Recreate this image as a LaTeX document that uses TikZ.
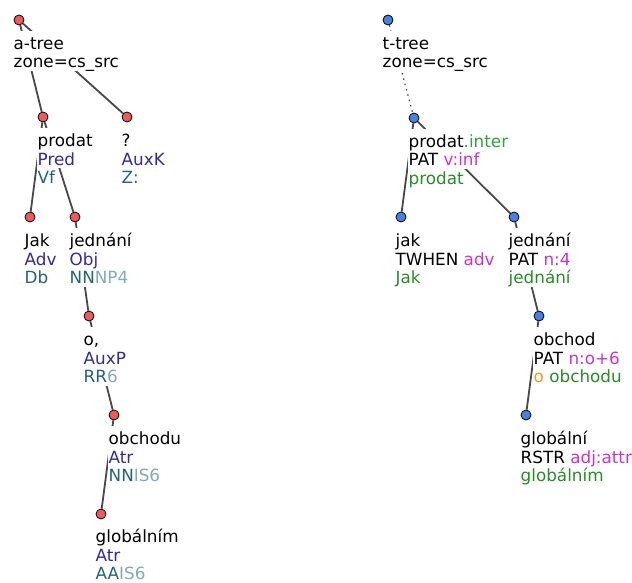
\documentclass[tikz,border=0pt]{standalone}
\usepackage{fontspec}
\setmainfont{DejaVu Sans}

\definecolor{afun}{RGB}{48,40,165}
\definecolor{tagA}{RGB}{35,100,115}
\definecolor{tagB}{RGB}{130,170,185}
\definecolor{fmm}{RGB}{204,51,204}
\definecolor{tlem}{RGB}{40,140,40}
\definecolor{tsuf}{RGB}{50,160,70}
\definecolor{auxw}{RGB}{255,150,40}
\definecolor{anodefill}{RGB}{240,90,90}
\definecolor{tnodefill}{RGB}{70,130,230}
\definecolor{edgegray}{RGB}{72,72,72}

% edges at the bottom, white label backings above them, text on top
\pgfdeclarelayer{edges}
\pgfdeclarelayer{backings}
\pgfsetlayers{edges,backings,main}

\tikzset{
  acirc/.style={circle,draw=black,line width=0.8pt,fill=anodefill,minimum size=10pt,inner sep=0pt},
  tcirc/.style={circle,draw=black,line width=0.8pt,fill=tnodefill,minimum size=10pt,inner sep=0pt},
  txt/.style={anchor=base west,inner xsep=0.5pt,inner ysep=0pt,
              text height=18pt,text depth=3pt,font=\fontsize{16.8}{18.5}\selectfont},
  treeedge/.style={draw=edgegray,line width=1.8pt},
  corefedge/.style={draw=edgegray,line width=1.2pt,dash pattern=on 1.5pt off 4pt}
}

\newcommand\backing[1]{%
  \begin{pgfonlayer}{backings}
    \fill[white] (#1.north west) rectangle (#1.south east);
  \end{pgfonlayer}}

% three text lines under a tree node centred at (#2,#3)
\newcommand\trilbl[6]{%
  \node[txt] (#1l1) at ({#2-6},{#3+29.5}) {#4};
  \node[txt] (#1l2) at ({#2-6},{#3+48}) {#5};
  \node[txt] (#1l3) at ({#2-6},{#3+66.5}) {#6};
  \backing{#1l1}\backing{#1l2}\backing{#1l3}}
% two text lines (tree roots)
\newcommand\duolbl[5]{%
  \node[txt] (#1l1) at ({#2-6},{#3+29.5}) {#4};
  \node[txt] (#1l2) at ({#2-6},{#3+48}) {#5};
  \backing{#1l1}\backing{#1l2}}

\begin{document}
\begin{tikzpicture}[x=1pt,y=-1pt]
\useasboundingbox (0,0) rectangle (632,583);

% analytical tree
\node[acirc] (a0) at (19,20) {};
\node[acirc] (a1) at (43,117) {};
\node[acirc] (a2) at (127,117) {};
\node[acirc] (a3) at (30,217) {};
\node[acirc] (a4) at (75,217) {};
\node[acirc] (a5) at (89,316) {};
\node[acirc] (a6) at (114,415) {};
\node[acirc] (a7) at (101,514) {};

\duolbl{a0}{19}{20}{a-tree}{zone=cs\_src}
\trilbl{a1}{43}{117}{prodat}{\color{afun}Pred}{\color{tagA}Vf}
\trilbl{a2}{127}{117}{?}{\color{afun}AuxK}{\color{tagA}Z:}
\trilbl{a3}{30}{217}{Jak}{\color{afun}Adv}{\color{tagA}Db}
\trilbl{a4}{75}{217}{jednání}{\color{afun}Obj}{\textcolor{tagA}{NN}\textcolor{tagB}{NP4}}
\trilbl{a5}{89}{316}{o,}{\color{afun}AuxP}{\textcolor{tagA}{RR}\textcolor{tagB}{6}}
\trilbl{a6}{114}{415}{obchodu}{\color{afun}Atr}{\textcolor{tagA}{NN}\textcolor{tagB}{IS6}}
\trilbl{a7}{101}{513}{globálním}{\color{afun}Atr}{\textcolor{tagA}{AA}\textcolor{tagB}{IS6}}

% tectogrammatical tree
\node[tcirc] (t0) at (388,20) {};
\node[tcirc] (t1) at (414,118) {};
\node[tcirc] (t2) at (401,217) {};
\node[tcirc] (t3) at (514,217) {};
\node[tcirc] (t4) at (539,316) {};
\node[tcirc] (t5) at (526,415) {};

\duolbl{t0}{388}{20}{t-tree}{zone=cs\_src}
\trilbl{t1}{414}{118}{prodat\textcolor{tsuf}{.inter}}{PAT \textcolor{fmm}{v:inf}}{\color{tlem}prodat}
\trilbl{t2}{401}{217}{jak}{TWHEN \textcolor{fmm}{adv}}{\color{tlem}Jak}
\trilbl{t3}{514}{217}{jednání}{PAT \textcolor{fmm}{n:4}}{\color{tlem}jednání}
\trilbl{t4}{539}{316}{obchod}{PAT \textcolor{fmm}{n:o+6}}{\textcolor{auxw}{o} \textcolor{tlem}{obchodu}}
\trilbl{t5}{526}{415}{globální}{RSTR \textcolor{fmm}{adj:attr}}{\color{tlem}globálním}

% edges run behind the labels
\begin{pgfonlayer}{edges}
  \draw[treeedge] (a0) -- (a1);
  \draw[treeedge] (a0) -- (a2);
  \draw[treeedge] (a1) -- (a3);
  \draw[treeedge] (a1) -- (a4);
  \draw[treeedge] (a4) -- (a5);
  \draw[treeedge] (a5) -- (a6);
  \draw[treeedge] (a6) -- (a7);
  \draw[corefedge] (t0) -- (t1);
  \draw[treeedge] (t1) -- (t2);
  \draw[treeedge] (t1) -- (t3);
  \draw[treeedge] (t3) -- (t4);
  \draw[treeedge] (t4) -- (t5);
\end{pgfonlayer}
\end{tikzpicture}
\end{document}
